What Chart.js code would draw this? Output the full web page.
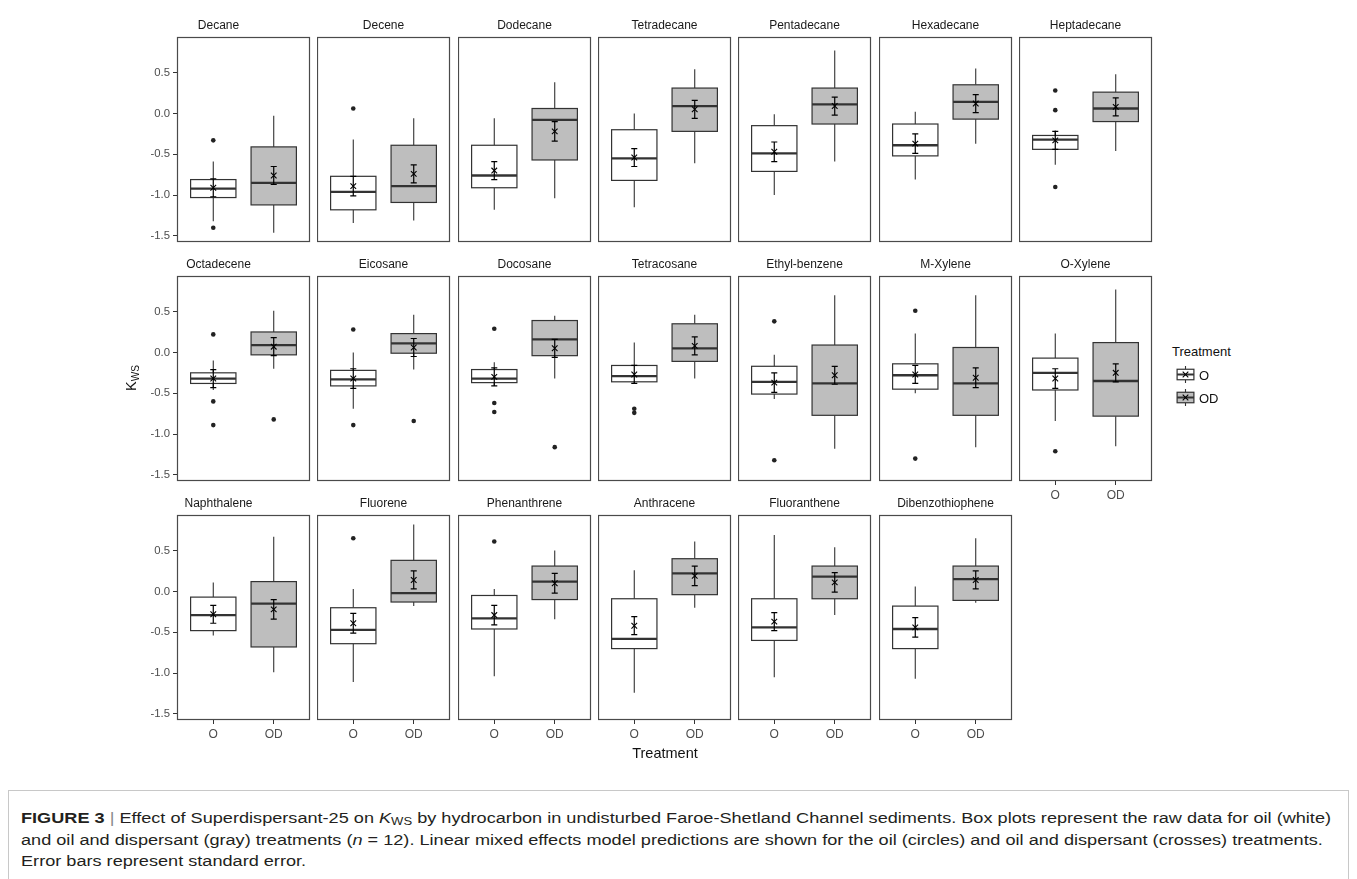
<!DOCTYPE html>
<html>
<head>
<meta charset="utf-8">
<script src="https://cdn.jsdelivr.net/npm/chart.js@4.4.0/dist/chart.umd.min.js"></script>
<style>
  html, body { margin: 0; padding: 0; background: #fff; }
  #fig { position: relative; width: 1357px; height: 879px; overflow: hidden; background: #fff;
         font-family: "Liberation Sans", Arial, sans-serif; }
  #fig canvas { position: absolute; }
  .lbl { position: absolute; white-space: nowrap; color: #000; }
  .lbl sub { font-size: 70%; vertical-align: -0.25em; line-height: 0; }
  #caption { position: absolute; left: 8px; top: 790px; width: 1341px; height: 120px;
             border: 1px solid #c8c8c8; box-sizing: border-box; }
  .capline { position: absolute; left: 12px; white-space: nowrap; color: #231f20;
             font-family: "Liberation Sans", Arial, sans-serif; transform-origin: 0 50%; }
  .capline sub { font-size: 72%; vertical-align: -0.2em; line-height: 0; }
  .bar { color: #888; }
</style>
</head>
<body>
<div id="fig"></div>
<script>
// Hydrocarbons, one facet each (facet order: left to right, top to bottom)
const compounds = ['Decane', 'Decene', 'Dodecane', 'Tetradecane', 'Pentadecane', 'Hexadecane', 'Heptadecane',
  'Octadecene', 'Eicosane', 'Docosane', 'Tetracosane', 'Ethyl-benzene', 'M-Xylene', 'O-Xylene',
  'Naphthalene', 'Fluorene', 'Phenanthrene', 'Anthracene', 'Fluoranthene', 'Dibenzothiophene'];

const treatments = ['O', 'OD'];
const yTickValues = [-1.5, -1.0, -0.5, 0.0, 0.5];

// Oil only (O): box plot statistics of K_WS
const lowO  = [-1.32, -1.34, -1.18, -1.15, -1.00, -0.81, -0.63, -0.46, -0.69, -0.41, -0.38, -0.57, -0.50, -0.84, -0.54, -1.11, -1.04, -1.24, -1.05, -1.07];
const q1O   = [-1.03, -1.18, -0.91, -0.82, -0.71, -0.52, -0.44, -0.38, -0.41, -0.37, -0.36, -0.51, -0.45, -0.46, -0.48, -0.64, -0.46, -0.70, -0.60, -0.70];
const medO  = [-0.92, -0.96, -0.76, -0.55, -0.49, -0.39, -0.32, -0.32, -0.33, -0.32, -0.29, -0.36, -0.28, -0.25, -0.29, -0.47, -0.33, -0.58, -0.44, -0.46];
const q3O   = [-0.81, -0.77, -0.39, -0.20, -0.15, -0.13, -0.27, -0.25, -0.22, -0.21, -0.16, -0.17, -0.14, -0.07, -0.07, -0.20, -0.05, -0.09, -0.09, -0.18];
const highO = [-0.59, -0.32, -0.06, 0.00, -0.01, 0.02, -0.21, -0.10, 0.00, -0.12, 0.12, -0.03, 0.23, 0.23, 0.11, 0.03, 0.03, 0.26, 0.69, 0.06];
const outO  = [[-0.33, -1.40], [0.06], [], [], [], [], [0.28, 0.04, -0.90], [0.22, -0.60, -0.89], [0.28, -0.89],
  [0.29, -0.62, -0.73], [-0.69, -0.74], [0.38, -1.32], [0.51, -1.30], [-1.21], [], [0.65], [0.61], [], [], []];
// Oil only (O): model prediction and standard error
const meanO = [-0.91, -0.89, -0.70, -0.54, -0.47, -0.37, -0.33, -0.32, -0.32, -0.30, -0.27, -0.37, -0.27, -0.32, -0.28, -0.39, -0.29, -0.42, -0.37, -0.44];
const seO   = [0.11, 0.12, 0.11, 0.11, 0.12, 0.12, 0.11, 0.11, 0.12, 0.11, 0.11, 0.12, 0.11, 0.12, 0.11, 0.12, 0.12, 0.11, 0.11, 0.12];

// Oil and dispersant (OD): box plot statistics of K_WS
const lowOD  = [-1.46, -1.31, -1.04, -0.61, -0.59, -0.37, -0.46, -0.20, -0.21, -0.32, -0.32, -1.18, -1.16, -1.15, -0.99, -0.18, -0.34, -0.20, -0.29, -0.14];
const q1OD   = [-1.12, -1.09, -0.57, -0.22, -0.13, -0.07, -0.10, -0.03, -0.01, -0.04, -0.11, -0.77, -0.77, -0.78, -0.68, -0.13, -0.10, -0.04, -0.09, -0.11];
const medOD  = [-0.85, -0.89, -0.08, 0.09, 0.11, 0.14, 0.06, 0.09, 0.11, 0.16, 0.05, -0.38, -0.38, -0.35, -0.15, -0.02, 0.12, 0.22, 0.18, 0.15];
const q3OD   = [-0.41, -0.39, 0.06, 0.31, 0.31, 0.35, 0.26, 0.25, 0.23, 0.39, 0.35, 0.09, 0.06, 0.12, 0.12, 0.38, 0.31, 0.40, 0.31, 0.31];
const highOD = [-0.03, -0.06, 0.38, 0.54, 0.77, 0.55, 0.48, 0.51, 0.46, 0.45, 0.46, 0.70, 0.70, 0.77, 0.67, 0.82, 0.50, 0.61, 0.54, 0.65];
const outOD  = [[], [], [], [], [], [], [], [-0.82], [-0.84], [-1.16], [], [], [], [], [], [], [], [], [], []];
// Oil and dispersant (OD): model prediction and standard error
const meanOD = [-0.76, -0.74, -0.22, 0.05, 0.09, 0.12, 0.08, 0.07, 0.06, 0.05, 0.08, -0.28, -0.31, -0.25, -0.22, 0.14, 0.10, 0.19, 0.11, 0.14];
const seOD   = [0.11, 0.11, 0.12, 0.11, 0.11, 0.11, 0.11, 0.11, 0.11, 0.11, 0.11, 0.11, 0.12, 0.11, 0.12, 0.11, 0.12, 0.12, 0.12, 0.11];

// ---- layout and style ----
const FONT = '"Liberation Sans", Arial, sans-serif';
const PW = 133, PH = 205;                 // facet panel size
const NCOL = 7;
const colLeft = c => Math.round(177 + 140.3 * c);
const rowTop = [37, 276, 515];
const TITLE_H = 24;
const PAD = 10;                           // spare room right/below each panel for edge labels
const Y_MIN = -1.574, Y_MAX = 0.935;
const X_MIN = 0.4, X_MAX = 2.6;           // discrete O / OD at 1 and 2
const BOX_HALF = 0.375, CAP_HALF = 0.05;
const FILL = ['#ffffff', '#bebebe'];
const STROKE = '#333333';

const fig = document.getElementById('fig');

// Box plots (whiskers, boxes, medians) under the points, error bars above them
const boxplotPlugin = {
  id: 'boxplot',
  beforeDatasetsDraw(chart) {
    const { ctx, chartArea: a, scales: { x, y } } = chart;
    const groups = chart.options.plugins.boxplot.groups;
    ctx.save();
    ctx.beginPath();
    ctx.rect(a.left, a.top, a.width, a.height);
    ctx.clip();
    groups.forEach((g, i) => {
      const cx = x.getPixelForValue(g.x);
      const xl = x.getPixelForValue(g.x - BOX_HALF);
      const xr = x.getPixelForValue(g.x + BOX_HALF);
      const yq1 = y.getPixelForValue(g.q1), yq3 = y.getPixelForValue(g.q3);
      ctx.strokeStyle = STROKE;
      ctx.lineWidth = 1.1;
      ctx.beginPath();
      ctx.moveTo(cx, y.getPixelForValue(g.high)); ctx.lineTo(cx, yq3);
      ctx.moveTo(cx, yq1); ctx.lineTo(cx, y.getPixelForValue(g.low));
      ctx.stroke();
      ctx.fillStyle = FILL[i];
      ctx.fillRect(xl, yq3, xr - xl, yq1 - yq3);
      ctx.lineWidth = 1.2;
      ctx.strokeRect(xl, yq3, xr - xl, yq1 - yq3);
      const ym = y.getPixelForValue(g.med);
      ctx.lineWidth = 2.3;
      ctx.beginPath();
      ctx.moveTo(xl, ym); ctx.lineTo(xr, ym);
      ctx.stroke();
    });
    ctx.restore();
  },
  afterDatasetsDraw(chart) {
    const { ctx, chartArea: a, scales: { x, y } } = chart;
    const groups = chart.options.plugins.boxplot.groups;
    ctx.save();
    ctx.strokeStyle = '#000';
    ctx.lineWidth = 1.2;
    groups.forEach(g => {
      const cx = x.getPixelForValue(g.x);
      const c0 = x.getPixelForValue(g.x - CAP_HALF), c1 = x.getPixelForValue(g.x + CAP_HALF);
      const yt = y.getPixelForValue(g.mean + g.se), yb = y.getPixelForValue(g.mean - g.se);
      ctx.beginPath();
      ctx.moveTo(cx, yt); ctx.lineTo(cx, yb);
      ctx.moveTo(c0, yt); ctx.lineTo(c1, yt);
      ctx.moveTo(c0, yb); ctx.lineTo(c1, yb);
      ctx.stroke();
    });
    // panel frame
    ctx.strokeStyle = '#4a4a4a';
    ctx.lineWidth = 1.2;
    ctx.strokeRect(a.left + 0.5, a.top + 0.5, a.width - 1, a.height - 1);
    ctx.restore();
  }
};

function makePanel(k) {
  const row = Math.floor(k / NCOL), col = k % NCOL;
  const showY = col === 0;
  const showX = row === 2 || (row === 1 && col === NCOL - 1);
  const yw = showY ? 50 : 0;
  const xh = showX ? 30 : 0;
  const w = PW + yw + PAD, h = TITLE_H + PH + xh + PAD;

  const canvas = document.createElement('canvas');
  canvas.width = w; canvas.height = h;
  canvas.style.left = (colLeft(col) - yw) + 'px';
  canvas.style.top = (rowTop[row] - TITLE_H) + 'px';
  canvas.style.width = w + 'px'; canvas.style.height = h + 'px';
  fig.appendChild(canvas);

  const outliers = outO[k].map(v => ({ x: 1, y: v })).concat(outOD[k].map(v => ({ x: 2, y: v })));
  const means = [{ x: 1, y: meanO[k] }, { x: 2, y: meanOD[k] }];
  const groups = [
    { x: 1, low: lowO[k], q1: q1O[k], med: medO[k], q3: q3O[k], high: highO[k], mean: meanO[k], se: seO[k] },
    { x: 2, low: lowOD[k], q1: q1OD[k], med: medOD[k], q3: q3OD[k], high: highOD[k], mean: meanOD[k], se: seOD[k] }
  ];

  new Chart(canvas, {
    type: 'scatter',
    data: {
      datasets: [
        { label: 'outliers', data: outliers, pointStyle: 'circle', pointRadius: 2.3,
          backgroundColor: '#222', borderWidth: 0 },
        { label: 'predictions', data: means, pointStyle: 'crossRot', pointRadius: 4,
          borderColor: '#000', borderWidth: 1.1 }
      ]
    },
    options: {
      responsive: false,
      animation: false,
      events: [],
      layout: { autoPadding: false, padding: { left: 0, top: 0, right: PAD, bottom: PAD } },
      plugins: {
        legend: { display: false },
        tooltip: { enabled: false },
        title: { display: true, text: compounds[k], color: '#1a1a1a',
                 font: { size: 12, family: FONT, weight: 'normal' }, padding: { top: 5.1, bottom: 4.5 } },
        boxplot: { groups }
      },
      scales: {
        x: {
          type: 'linear', min: X_MIN, max: X_MAX,
          afterBuildTicks: s => { s.ticks = treatments.map((t, i) => ({ value: i + 1 })); },
          afterFit: s => { s.height = xh; },
          border: { display: false },
          grid: { display: showX, drawOnChartArea: false, drawTicks: true, tickLength: 4, color: '#333', lineWidth: 1 },
          ticks: { display: showX, padding: 3, color: '#4d4d4d', autoSkip: false, maxRotation: 0,
                   font: { size: 12, family: FONT }, callback: v => treatments[Math.round(v) - 1] }
        },
        y: {
          type: 'linear', min: Y_MIN, max: Y_MAX,
          afterBuildTicks: s => { s.ticks = yTickValues.map(v => ({ value: v })); },
          afterFit: s => { s.width = yw; },
          border: { display: false },
          grid: { display: showY, drawOnChartArea: false, drawTicks: true, tickLength: 4, color: '#333', lineWidth: 1 },
          ticks: { display: showY, padding: 3, color: '#4d4d4d',
                   font: { size: 11.3, family: FONT }, callback: v => v.toFixed(1) }
        }
      }
    },
    plugins: [boxplotPlugin]
  });
}

compounds.forEach((c, k) => makePanel(k));

// ---- axis titles ----
function addLabel(html, x, y, size, rotate, color) {
  const d = document.createElement('div');
  d.className = 'lbl';
  d.innerHTML = html;
  d.style.fontSize = size + 'px';
  d.style.left = x + 'px';
  d.style.top = y + 'px';
  if (color) d.style.color = color;
  d.style.transform = 'translate(-50%, -50%)' + (rotate ? ' rotate(-90deg)' : '');
  fig.appendChild(d);
  return d;
}
addLabel('K<sub>WS</sub>', 131, 378, 14.5, true, '#111');
addLabel('Treatment', 665, 753, 14.5, false, '#111');

// ---- legend ----
const legendTitle = addLabel('Treatment', 1200, 351, 13, false, '#111');
const KEY = 21, KEY_X = 1175, KEY_Y = [364, 387];
const lc = document.createElement('canvas');
lc.width = 30; lc.height = 60;
lc.style.left = KEY_X + 'px'; lc.style.top = KEY_Y[0] + 'px';
lc.style.width = '30px'; lc.style.height = '60px';
fig.appendChild(lc);
const lctx = lc.getContext('2d');
KEY_Y.forEach((ky, i) => {
  const oy = ky - KEY_Y[0], s = KEY;
  const cx = s / 2;
  lctx.strokeStyle = STROKE;
  lctx.lineWidth = 1.1;
  lctx.beginPath();
  lctx.moveTo(cx, oy + 0.1 * s); lctx.lineTo(cx, oy + 0.25 * s);
  lctx.moveTo(cx, oy + 0.75 * s); lctx.lineTo(cx, oy + 0.9 * s);
  lctx.stroke();
  lctx.fillStyle = FILL[i];
  lctx.fillRect(0.1 * s, oy + 0.25 * s, 0.8 * s, 0.5 * s);
  lctx.lineWidth = 1.2;
  lctx.strokeRect(0.1 * s, oy + 0.25 * s, 0.8 * s, 0.5 * s);
  lctx.lineWidth = 2;
  lctx.beginPath();
  lctx.moveTo(0.1 * s, oy + 0.5 * s); lctx.lineTo(0.9 * s, oy + 0.5 * s);
  lctx.stroke();
  lctx.strokeStyle = '#000';
  lctx.lineWidth = 1.1;
  lctx.beginPath();
  lctx.moveTo(cx - 2.8, oy + s / 2 - 2.8); lctx.lineTo(cx + 2.8, oy + s / 2 + 2.8);
  lctx.moveTo(cx - 2.8, oy + s / 2 + 2.8); lctx.lineTo(cx + 2.8, oy + s / 2 - 2.8);
  lctx.stroke();
  const t = document.createElement('div');
  t.className = 'lbl';
  t.textContent = treatments[i];
  t.style.fontSize = '13px';
  t.style.color = '#111';
  t.style.left = (KEY_X + KEY + 3) + 'px';
  t.style.top = (ky + s / 2) + 'px';
  t.style.transform = 'translateY(-50%)';
  fig.appendChild(t);
});
legendTitle.style.left = (KEY_X - 3) + 'px';
legendTitle.style.transform = 'translateY(-50%)';

// ---- figure caption ----
const cap = document.createElement('div');
cap.id = 'caption';
fig.appendChild(cap);
const capLines = [
  '<b>FIGURE 3</b> <span class="bar">|</span> Effect of Superdispersant-25 on <i>K</i><sub>WS</sub> by hydrocarbon in undisturbed Faroe-Shetland Channel sediments. Box plots represent the raw data for oil (white)',
  'and oil and dispersant (gray) treatments (<i>n</i> = 12). Linear mixed effects model predictions are shown for the oil (circles) and oil and dispersant (crosses) treatments.',
  'Error bars represent standard error.'
];
const CAP_SIZE = 15.5;
const lineEls = capLines.map((html, i) => {
  const d = document.createElement('div');
  d.className = 'capline';
  d.innerHTML = html;
  d.style.fontSize = CAP_SIZE + 'px';
  d.style.top = (27 + 21.5 * i) + 'px';
  cap.appendChild(d);
  return d;
});
// narrow the caption type so the first line spans the caption box
const w0 = lineEls[0].getBoundingClientRect().width;
const sx = 1310 / w0;
lineEls.forEach(d => {
  d.style.transform = 'translateY(-50%) scaleX(' + sx.toFixed(4) + ')';
});
</script>
</body>
</html>
